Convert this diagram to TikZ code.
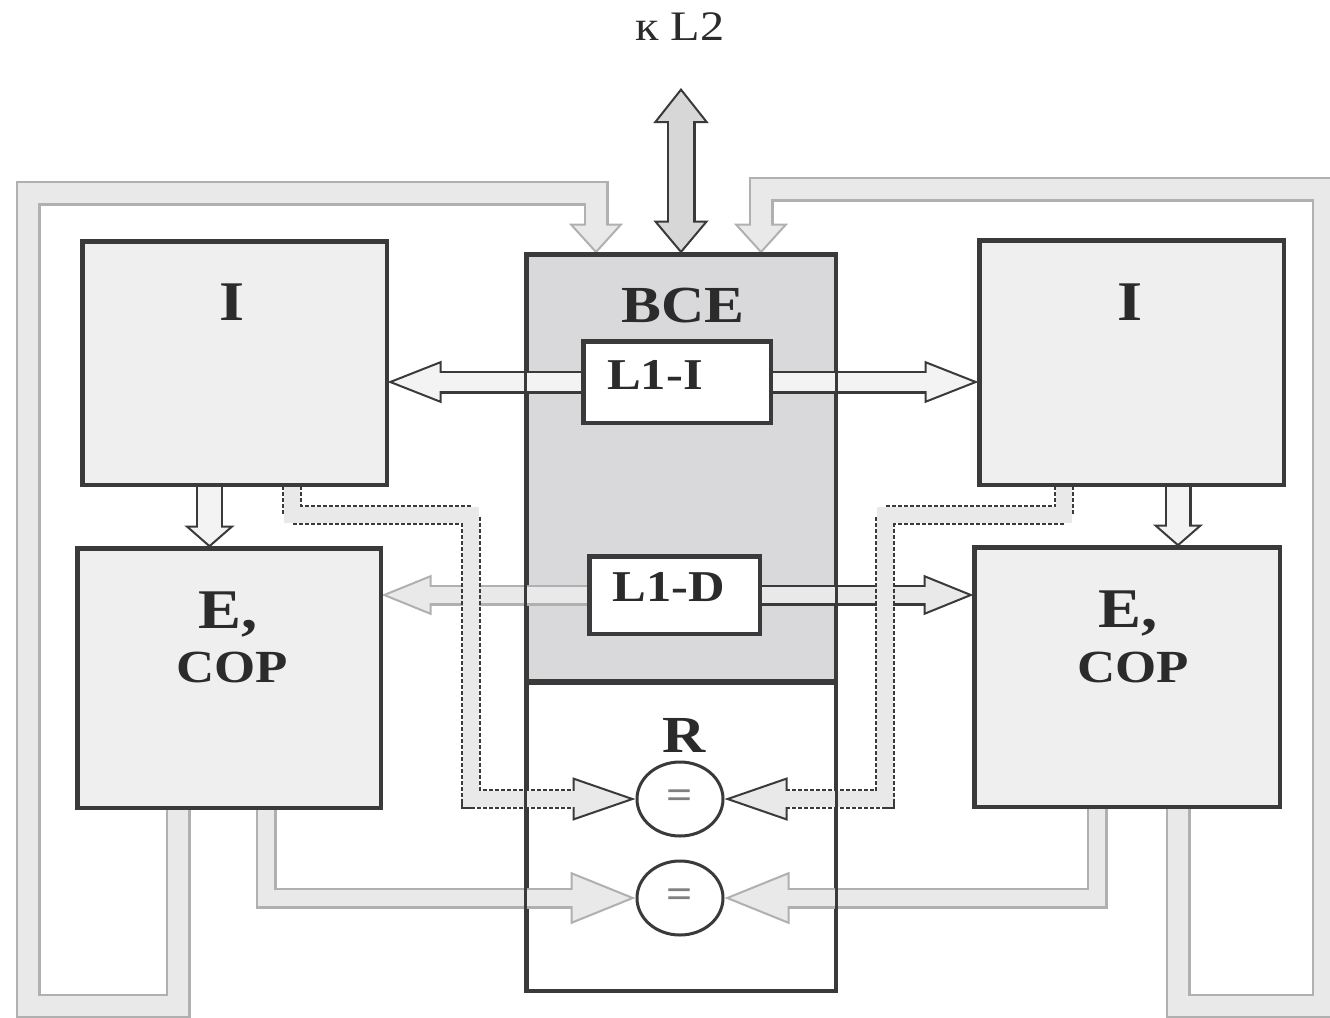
\documentclass[tikz,border=0pt]{standalone}
\usepackage{fontspec}
\setmainfont{Liberation Serif}[FakeStretch=1.15]
\usetikzlibrary{arrows.meta,shapes.geometric}

\definecolor{edgedark}{HTML}{3A3A3A}
\definecolor{edgelight}{HTML}{B0B0B0}
\definecolor{boxgray}{HTML}{EFEFEF}
\definecolor{bcegray}{HTML}{D9D9DB}
\definecolor{pipegray}{HTML}{E9E9E9}
\definecolor{portgray}{HTML}{F3F3F3}
\definecolor{inkgray}{HTML}{2B2B2B}

% hollow fat arrow: #1 edge, #2 fill, #3 shaft width, #4 head length, #5 head width, #6 path
\newcommand{\fatarrow}[6]{%
  \pgfmathsetlengthmacro\fatinner{#3-4.4pt}%
  \pgfmathsetlengthmacro\fatshort{#4-2.5pt}%
  \draw[#1, line width=#3, -{Triangle[length=#4 0 0, width=#5 0 0, line width=2pt 0 0, fill=#2]}] #6;
  \draw[#2, line width=\fatinner, shorten >=\fatshort] #6;
}

\begin{document}
\begin{tikzpicture}[x=1pt, y=-1pt,
    blk/.style={draw=edgedark, line width=3pt, fill=boxgray, inner sep=0pt},
    cmpbox/.style={draw=edgedark, line width=3pt, fill=white, ellipse, inner sep=0pt,
                   minimum width=86, minimum height=74},
    lbl/.style={text=inkgray, anchor=base, inner sep=0pt,
                font=\fontsize{56pt}{60pt}\selectfont\bfseries},
    midlbl/.style={lbl, font=\fontsize{52pt}{56pt}\selectfont\bfseries},
    smlbl/.style={lbl, font=\fontsize{46pt}{50pt}\selectfont\bfseries},
    portlbl/.style={lbl, font=\fontsize{44pt}{48pt}\selectfont\bfseries},
    eqsign/.style={text=gray, inner sep=0pt, font=\fontsize{40pt}{40pt}\selectfont\bfseries}]

    \useasboundingbox (0,0) rectangle (1330,1017);

    % Instruction and execution units
    \node[blk, minimum width=303, minimum height=242] (Ileft) at (234.5,363) {};
    \node[blk, minimum width=302, minimum height=258] (Eleft) at (229,678) {};
    \node[blk, minimum width=303, minimum height=243] (Iright) at (1131.5,362.5) {};
    \node[blk, minimum width=304, minimum height=258] (Eright) at (1127,677) {};

    % Cache block and checker
    \node[blk, fill=bcegray, minimum width=308, minimum height=427] (BCE) at (681,468.5) {};
    \node[blk, fill=white, minimum width=308, minimum height=308] (Rbox) at (681,836) {};
    \node[blk, fill=white, minimum width=186, minimum height=80] (L1I) at (677,382) {};
    \node[blk, fill=white, minimum width=169, minimum height=76] (L1D) at (674.5,595) {};
    \node[cmpbox] (cmp1) at (680,799) {};
    \node[cmpbox] (cmp2) at (680,898) {};

    % L1 ports
    \fatarrow{edgedark}{portgray}{23pt}{54pt}{42pt}{(L1I.west) -- (L1I.west -| Ileft.east)}
    \fatarrow{edgedark}{portgray}{23pt}{54pt}{42pt}{(L1I.east) -- (L1I.east -| Iright.west)}
    \fatarrow{edgelight}{pipegray}{21pt}{50pt}{40pt}{(L1D.west) -- (L1D.west -| Eleft.east)}
    \fatarrow{edgedark}{pipegray}{21pt}{50pt}{40pt}{(L1D.east) -- (L1D.east -| Eright.west)}

    % I to E
    \fatarrow{edgedark}{portgray}{27pt}{22pt}{50pt}{([xshift=-25pt]Ileft.south) -- ([xshift=-25pt]Ileft.south |- Eleft.north)}
    \fatarrow{edgedark}{portgray}{27pt}{22pt}{50pt}{([xshift=46.5pt]Iright.south) -- ([xshift=46.5pt]Iright.south |- Eright.north)}

    % I to checker (dotted)
    \fatarrow{edgedark, dash pattern=on 4pt off 2pt}{pipegray}{20pt}{63pt}{43pt}{([xshift=57.5pt]Ileft.south) |- (471,515) |- (cmp1.west)}
    \fatarrow{edgedark, dash pattern=on 4pt off 2pt}{pipegray}{20pt}{63pt}{43pt}{([xshift=-67.5pt]Iright.south) |- (885,515) |- (cmp1.east)}

    % E to checker
    \fatarrow{edgelight}{pipegray}{21pt}{65pt}{52pt}{([xshift=37pt]Eleft.south) |- (cmp2.west)}
    \fatarrow{edgelight}{pipegray}{21pt}{65pt}{52pt}{([xshift=-30pt]Eright.south) |- (cmp2.east)}

    % Loops back to BCE
    \fatarrow{edgelight}{pipegray}{25pt}{30pt}{54pt}{([xshift=-51pt]Eleft.south) |- (28,1006) |- (596,193) -- ([xshift=-85pt]BCE.north)}
    \fatarrow{edgelight}{pipegray}{25pt}{30pt}{54pt}{([xshift=51pt]Eright.south) |- (1324,1006) |- (761,189) -- ([xshift=80pt]BCE.north)}

    % Port to L2
    \coordinate (L2port) at (681,88);
    \draw[edgedark, line width=29pt,
          {Triangle[length=35pt 0 0, width=55pt 0 0, line width=2pt 0 0, fill=boxgray!90!black]}-{Triangle[length=33pt 0 0, width=55pt 0 0, line width=2pt 0 0, fill=boxgray!90!black]}]
        (L2port) -- (BCE.north);
    \draw[boxgray!90!black, line width=24.6pt, shorten <=32.5pt, shorten >=30.5pt] (L2port) -- (BCE.north);

    % Borders on top
    \foreach \b in {Ileft,Eleft,Iright,Eright,BCE,Rbox,L1I,L1D}
        \draw[edgedark, line width=3pt] (\b.south west) rectangle (\b.north east);

    % Labels
    \node[lbl] (tIl) at (232,320) {I};
    \node[lbl] (tIr) at (1130,320) {I};
    \node[lbl] (tEl) at (228,628) {E,};
    \node[lbl] (tEr) at (1128,627) {E,};
    \node[smlbl] (tCl) at (232,682) {COP};
    \node[smlbl] (tCr) at (1133,682) {COP};
    \node[midlbl] (tBCE) at (683,322) {BCE};
    \node[portlbl] (tL1I) at (655,389) {L1-I};
    \node[portlbl] (tL1D) at (669,601) {L1-D};
    \node[midlbl] (tR) at (684,752) {R};
    \node[lbl, font=\fontsize{42pt}{46pt}\selectfont] (tL2) at (680,40) {к L2};
    \node[eqsign] (eq1) at (cmp1) {=};
    \node[eqsign] (eq2) at (cmp2) {=};
\end{tikzpicture}
\end{document}
